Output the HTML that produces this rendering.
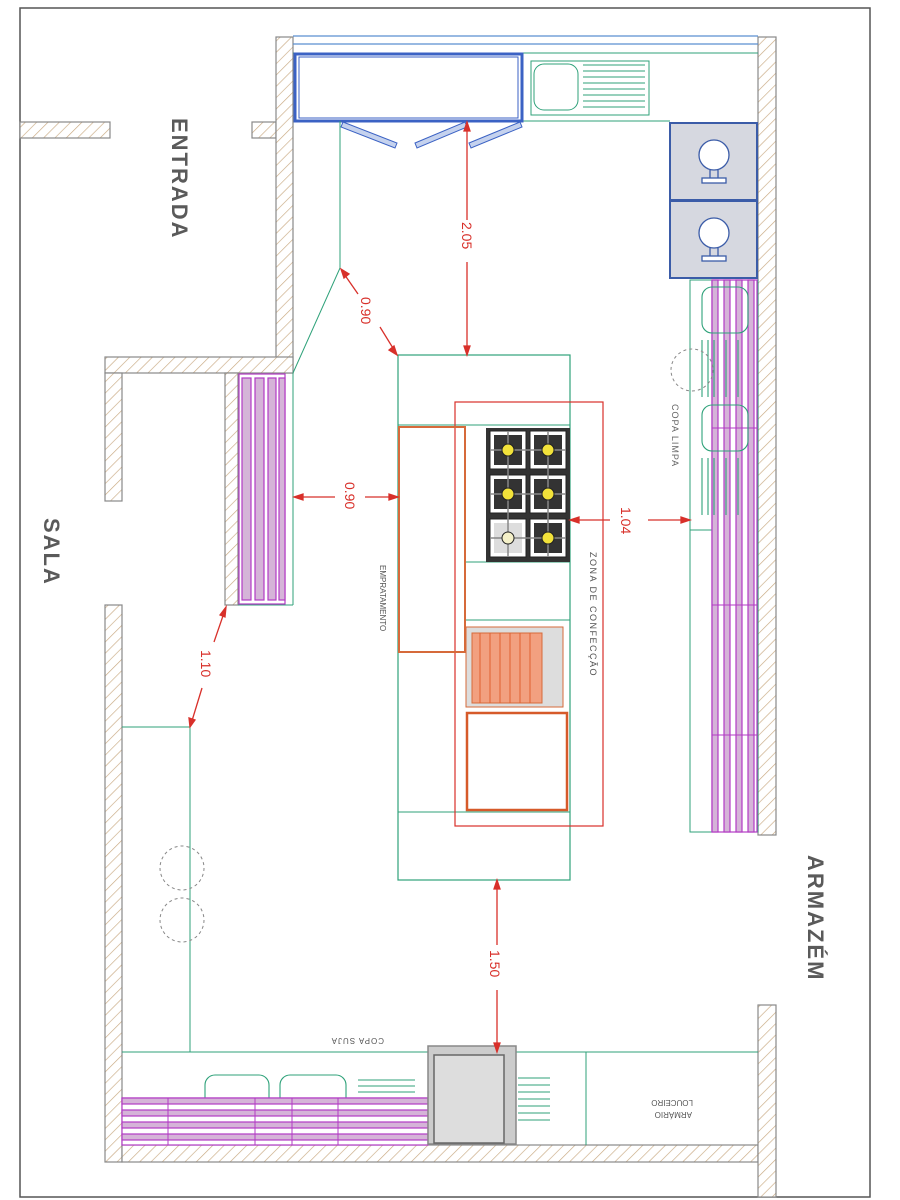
<!DOCTYPE html>
<html><head><meta charset="utf-8"><style>
html,body{margin:0;padding:0;background:#fff;}
svg{display:block;}
text{font-family:"Liberation Sans",sans-serif;}
</style></head><body>
<svg width="900" height="1200" viewBox="0 0 900 1200" xmlns="http://www.w3.org/2000/svg">
<defs>
<pattern id="h" width="8" height="8" patternUnits="userSpaceOnUse" patternTransform="rotate(45)">
<rect width="8" height="8" fill="#fff"/><line x1="0" y1="0" x2="0" y2="8" stroke="#c9a982" stroke-width="1.3"/>
</pattern>
</defs>
<rect width="900" height="1200" fill="#fff"/>
<rect x="20" y="8" width="850" height="1189" fill="none" stroke="#555" stroke-width="1.5"/>

<g fill="url(#h)" stroke="#888" stroke-width="1.2">
<rect x="20" y="122" width="90" height="16"/>
<rect x="252" y="122" width="24" height="16"/>
<rect x="276" y="37" width="17" height="336"/>
<rect x="105" y="357" width="188" height="16"/>
<rect x="105" y="373" width="17" height="128"/>
<rect x="225" y="373" width="13" height="232"/>
<rect x="105" y="605" width="17" height="557"/>
<rect x="122" y="1145" width="636" height="17"/>
<rect x="758" y="37" width="18" height="798"/>
<rect x="758" y="1005" width="18" height="192"/>
</g>

<g fill="none" stroke="#5a8fd0" stroke-width="1.2">
<line x1="293" y1="36" x2="758" y2="36"/>
<line x1="293" y1="44" x2="758" y2="44"/>
</g>
<line x1="293" y1="53" x2="758" y2="53" stroke="#2fa27a" stroke-width="1"/>
<line x1="522" y1="121" x2="670" y2="121" stroke="#2fa27a" stroke-width="1"/>
<rect x="295" y="54" width="227" height="67" fill="#fff" stroke="#3b62c4" stroke-width="3"/>
<rect x="299" y="57" width="219" height="61" fill="none" stroke="#3b62c4" stroke-width="1"/>
<g fill="#c5d2ee" stroke="#3b62c4" stroke-width="1">
<polygon points="343,122 397,143 395,148 341,127"/>
<polygon points="415,143 465,122 467,127 417,148"/>
<polygon points="469,143 520,122 522,127 471,148"/>
</g>
<rect x="531" y="61" width="118" height="54" fill="none" stroke="#2fa27a"/>
<rect x="534" y="64" width="44" height="46" rx="10" fill="none" stroke="#2fa27a"/>
<g stroke="#2fa27a"><line x1="583" y1="65" x2="645" y2="65"/><line x1="583" y1="71" x2="645" y2="71"/><line x1="583" y1="77" x2="645" y2="77"/><line x1="583" y1="83" x2="645" y2="83"/><line x1="583" y1="89" x2="645" y2="89"/><line x1="583" y1="95" x2="645" y2="95"/><line x1="583" y1="101" x2="645" y2="101"/><line x1="583" y1="107" x2="645" y2="107"/></g>

<g stroke="#3b5ca8" stroke-width="2" fill="#d6d8e0">
<rect x="670" y="123" width="87" height="77"/>
<rect x="670" y="201" width="87" height="77"/>
</g>
<g fill="#fff" stroke="#3b5ca8" stroke-width="1.3">
<circle cx="714" cy="155" r="15"/><rect x="702" y="178" width="24" height="5"/><line x1="710" y1="170" x2="710" y2="178"/><line x1="718" y1="170" x2="718" y2="178"/>
<circle cx="714" cy="233" r="15"/><rect x="702" y="256" width="24" height="5"/><line x1="710" y1="248" x2="710" y2="256"/><line x1="718" y1="248" x2="718" y2="256"/>
</g>

<rect x="690" y="280" width="68" height="552" fill="none" stroke="#2fa27a"/>
<line x1="690" y1="530" x2="758" y2="530" stroke="#2fa27a"/>
<g fill="#d5b4d8" stroke="#b23bc4" stroke-width="1.2">
<rect x="712" y="280" width="45" height="552" fill="#fff"/>
<rect x="712" y="280" width="6" height="552"/>
<rect x="724" y="280" width="6" height="552"/>
<rect x="736" y="280" width="6" height="552"/>
<rect x="748" y="280" width="6" height="552"/>
</g>
<g stroke="#b23bc4"><line x1="712" y1="428" x2="757" y2="428"/><line x1="712" y1="605" x2="757" y2="605"/><line x1="712" y1="735" x2="757" y2="735"/></g>
<g fill="none" stroke="#2fa27a" stroke-width="1.1">
<rect x="702" y="287" width="46" height="46" rx="10"/>
<rect x="702" y="405" width="46" height="46" rx="10"/>
<line x1="702" y1="340" x2="702" y2="397"/><line x1="708" y1="340" x2="708" y2="397"/><line x1="714" y1="340" x2="714" y2="397"/><line x1="726" y1="340" x2="726" y2="397"/><line x1="738" y1="340" x2="738" y2="397"/>
<line x1="702" y1="458" x2="702" y2="515"/><line x1="708" y1="458" x2="708" y2="515"/><line x1="714" y1="458" x2="714" y2="515"/><line x1="726" y1="458" x2="726" y2="515"/><line x1="738" y1="458" x2="738" y2="515"/>
</g>
<circle cx="692" cy="370" r="21" fill="none" stroke="#888" stroke-dasharray="3,3"/>
<text transform="translate(672,404) rotate(90)" font-size="9" fill="#666" letter-spacing="1">COPA LIMPA</text>

<polyline points="340,121 340,268 293,373" fill="none" stroke="#2fa27a"/>
<line x1="293" y1="373" x2="293" y2="605" stroke="#2fa27a"/>
<line x1="238" y1="605" x2="293" y2="605" stroke="#2fa27a"/>
<g fill="#d5b4d8" stroke="#b23bc4" stroke-width="1.2">
<rect x="239" y="374" width="46" height="230" fill="#fff"/>
<rect x="242" y="378" width="9" height="222"/>
<rect x="255" y="378" width="9" height="222"/>
<rect x="268" y="378" width="8" height="222"/>
<rect x="279" y="378" width="6" height="222"/>
</g>

<rect x="398" y="355" width="172" height="525" fill="none" stroke="#2fa27a" stroke-width="1.2"/>
<line x1="398" y1="425" x2="570" y2="425" stroke="#2fa27a"/>
<line x1="398" y1="812" x2="570" y2="812" stroke="#2fa27a"/>
<line x1="465" y1="562" x2="570" y2="562" stroke="#2fa27a"/>
<line x1="465" y1="620" x2="570" y2="620" stroke="#2fa27a"/>
<rect x="455" y="402" width="148" height="424" fill="none" stroke="#d8302a" stroke-width="1.2"/>
<rect x="399" y="427" width="66" height="225" fill="none" stroke="#d66a3a" stroke-width="2"/>
<g>
<rect x="486" y="428" width="84" height="134" fill="#333"/>
<g fill="#fff" stroke="#222" stroke-width="1">
<rect x="490" y="431" width="36" height="38"/><rect x="530" y="431" width="36" height="38"/>
<rect x="490" y="475" width="36" height="38"/><rect x="530" y="475" width="36" height="38"/>
<rect x="490" y="519" width="36" height="38"/><rect x="530" y="519" width="36" height="38"/>
</g>
<g fill="#333"><rect x="494" y="435" width="28" height="30"/><rect x="534" y="435" width="28" height="30"/><rect x="494" y="479" width="28" height="30"/><rect x="534" y="479" width="28" height="30"/><rect x="494" y="523" width="28" height="30" fill="#ddd"/><rect x="534" y="523" width="28" height="30"/></g>
<g stroke="#888" stroke-width="1.5"><line x1="508" y1="431" x2="508" y2="557"/><line x1="548" y1="431" x2="548" y2="557"/><line x1="490" y1="450" x2="566" y2="450"/><line x1="490" y1="494" x2="566" y2="494"/><line x1="490" y1="538" x2="566" y2="538"/></g>
<g fill="#f2e23a" stroke="#222"><circle cx="508" cy="450" r="6"/><circle cx="548" cy="450" r="6"/><circle cx="508" cy="494" r="6"/><circle cx="548" cy="494" r="6"/><circle cx="508" cy="538" r="6" fill="#f4f0c8"/><circle cx="548" cy="538" r="6"/></g>
</g>
<rect x="466" y="627" width="97" height="80" fill="#ddd" stroke="#d66a3a"/>
<rect x="472" y="633" width="70" height="70" fill="#f2a080" stroke="#d66a3a"/>
<g stroke="#e06030"><line x1="480" y1="633" x2="480" y2="703"/><line x1="490" y1="633" x2="490" y2="703"/><line x1="500" y1="633" x2="500" y2="703"/><line x1="510" y1="633" x2="510" y2="703"/><line x1="520" y1="633" x2="520" y2="703"/><line x1="530" y1="633" x2="530" y2="703"/></g>
<rect x="467" y="713" width="100" height="97" fill="none" stroke="#d65a2a" stroke-width="2.5"/>
<text transform="translate(590,552) rotate(90)" font-size="9" fill="#555" letter-spacing="1.5">ZONA DE CONFECÇÃO</text>
<text transform="translate(380,565) rotate(90)" font-size="8" fill="#555">EMPRATAMENTO</text>

<polyline points="122,727 190,727 190,1052" fill="none" stroke="#2fa27a"/>
<circle cx="182" cy="868" r="22" fill="none" stroke="#888" stroke-dasharray="3,3"/>
<circle cx="182" cy="920" r="22" fill="none" stroke="#888" stroke-dasharray="3,3"/>

<line x1="122" y1="1052" x2="758" y2="1052" stroke="#2fa27a"/>
<line x1="586" y1="1052" x2="586" y2="1145" stroke="#2fa27a"/>
<g fill="none" stroke="#2fa27a" stroke-width="1.1">
<rect x="205" y="1075" width="64" height="57" rx="10"/>
<rect x="280" y="1075" width="66" height="57" rx="10"/>
<line x1="358" y1="1080" x2="415" y2="1080"/><line x1="358" y1="1086" x2="415" y2="1086"/><line x1="358" y1="1092" x2="415" y2="1092"/><line x1="358" y1="1108" x2="415" y2="1108"/><line x1="358" y1="1114" x2="415" y2="1114"/>
<line x1="518" y1="1078" x2="550" y2="1078"/><line x1="518" y1="1085" x2="550" y2="1085"/><line x1="518" y1="1092" x2="550" y2="1092"/><line x1="518" y1="1099" x2="550" y2="1099"/><line x1="518" y1="1106" x2="550" y2="1106"/><line x1="518" y1="1113" x2="550" y2="1113"/><line x1="518" y1="1120" x2="550" y2="1120"/>
</g>
<g fill="#d5b4d8" stroke="#b23bc4" stroke-width="1.2">
<rect x="122" y="1098" width="306" height="47" fill="#fff"/>
<rect x="122" y="1098" width="306" height="6"/>
<rect x="122" y="1110" width="306" height="6"/>
<rect x="122" y="1122" width="306" height="6"/>
<rect x="122" y="1134" width="306" height="6"/>
</g>
<g stroke="#b23bc4"><line x1="168" y1="1098" x2="168" y2="1145"/><line x1="255" y1="1098" x2="255" y2="1145"/><line x1="292" y1="1098" x2="292" y2="1145"/><line x1="338" y1="1098" x2="338" y2="1145"/></g>
<rect x="428" y="1046" width="88" height="98" fill="#ccc" stroke="#888" stroke-width="1.5"/>
<rect x="434" y="1055" width="70" height="88" fill="#ddd" stroke="#666" stroke-width="1.5"/>
<text transform="translate(384,1038) rotate(180)" font-size="8" fill="#555" letter-spacing="1">COPA SUJA</text>
<text transform="translate(693,1100) rotate(180)" font-size="8" fill="#555">LOUCEIRO</text>
<text transform="translate(692,1112) rotate(180)" font-size="8" fill="#555">ARMÁRIO</text>

<g stroke="#d8302a" stroke-width="1.3" fill="#d8302a">
<line x1="467" y1="124" x2="467" y2="220"/><line x1="467" y1="262" x2="467" y2="353"/>
<polygon points="467,122 464,131 470,131"/><polygon points="467,355 464,346 470,346"/>
<line x1="342" y1="271" x2="358" y2="294"/><line x1="380" y1="327" x2="396" y2="353"/>
<polygon points="341,269 349,274 344,278"/><polygon points="397,355 389,350 394,346"/>
<line x1="296" y1="497" x2="335" y2="497"/><line x1="365" y1="497" x2="396" y2="497"/>
<polygon points="294,497 303,494 303,500"/><polygon points="398,497 389,494 389,500"/>
<line x1="572" y1="520" x2="610" y2="520"/><line x1="648" y1="520" x2="688" y2="520"/>
<polygon points="570,520 579,517 579,523"/><polygon points="690,520 681,517 681,523"/>
<line x1="225" y1="610" x2="214" y2="642"/><line x1="202" y1="688" x2="191" y2="724"/>
<polygon points="226,607 220,615 225,617"/><polygon points="190,727 189,718 195,720"/>
<line x1="497" y1="882" x2="497" y2="945"/><line x1="497" y1="990" x2="497" y2="1050"/>
<polygon points="497,880 494,889 500,889"/><polygon points="497,1052 494,1043 500,1043"/>
</g>
<g fill="#d8302a" font-size="14">
<text transform="translate(462,222) rotate(90)">2.05</text>
<text transform="translate(361,297) rotate(90)">0.90</text>
<text transform="translate(345,482) rotate(90)">0.90</text>
<text transform="translate(621,507) rotate(90)">1.04</text>
<text transform="translate(201,650) rotate(90)">1.10</text>
<text transform="translate(490,950) rotate(90)">1.50</text>
</g>

<g fill="#5a5a5a" font-size="22" letter-spacing="2" font-weight="bold">
<text transform="translate(172,118) rotate(90)">ENTRADA</text>
<text transform="translate(44,518) rotate(90)">SALA</text>
<text transform="translate(808,855) rotate(90)">ARMAZÉM</text>
</g>
</svg>
</body></html>
